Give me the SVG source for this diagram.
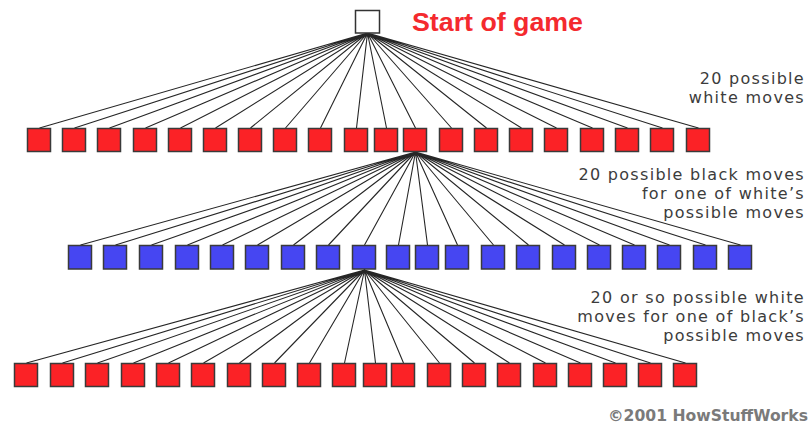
<svg xmlns="http://www.w3.org/2000/svg" width="810" height="425" viewBox="0 0 810 425">
<style>
  .red { fill: #fb2226; stroke: #3a3a3a; stroke-width: 1.5; }
  .blue { fill: #4646f2; stroke: #3a3a3a; stroke-width: 1.5; }
  .root { fill: #ffffff; stroke: #333333; stroke-width: 1.5; }
  .edge { stroke: #262626; stroke-width: 1.1; fill: none; }
  .note { font-family: "DejaVu Sans", Verdana, sans-serif; font-size: 16px; letter-spacing: 1.3px; fill: #3c3c3c; text-anchor: end; }
  .title { font-family: "Liberation Sans", Arial, sans-serif; font-weight: bold; font-size: 26px; fill: #f42a2e; }
  .credit { font-family: "DejaVu Sans", Verdana, sans-serif; font-weight: bold; font-size: 15px; fill: #7a7a7a; }
</style>
<rect width="810" height="425" fill="#ffffff"/>

<!-- connectors: root to white moves, one white move to black moves, one black move to white replies -->
<g id="connectors" class="edge">
  <path d="M367.5 33 L39.5 128 M367.5 33 L74.5 128 M367.5 33 L109.5 128 M367.5 33 L145.5 128 M367.5 33 L180.5 128 M367.5 33 L215.5 128 M367.5 33 L250.5 128 M367.5 33 L285.5 128 M367.5 33 L320.5 128 M367.5 33 L356.5 128 M367.5 33 L386.5 128 M367.5 33 L415.5 128 M367.5 33 L451.5 128 M367.5 33 L486.5 128 M367.5 33 L521.5 128 M367.5 33 L556.5 128 M367.5 33 L592.5 128 M367.5 33 L627.5 128 M367.5 33 L662.5 128 M367.5 33 L698.5 128"/>
  <path d="M415.5 152 L80.5 245 M415.5 152 L115.5 245 M415.5 152 L151.5 245 M415.5 152 L187.5 245 M415.5 152 L222.5 245 M415.5 152 L257.5 245 M415.5 152 L293.5 245 M415.5 152 L328.5 245 M415.5 152 L364.5 245 M415.5 152 L398.5 245 M415.5 152 L427.5 245 M415.5 152 L457.5 245 M415.5 152 L493.5 245 M415.5 152 L528.5 245 M415.5 152 L564.5 245 M415.5 152 L599.5 245 M415.5 152 L634.5 245 M415.5 152 L669.5 245 M415.5 152 L705.5 245 M415.5 152 L740.5 245"/>
  <path d="M364.5 270 L26.5 363 M364.5 270 L62.5 363 M364.5 270 L97.5 363 M364.5 270 L133.5 363 M364.5 270 L168.5 363 M364.5 270 L203.5 363 M364.5 270 L239.5 363 M364.5 270 L274.5 363 M364.5 270 L309.5 363 M364.5 270 L344.5 363 M364.5 270 L375.5 363 M364.5 270 L403.5 363 M364.5 270 L439.5 363 M364.5 270 L474.5 363 M364.5 270 L509.5 363 M364.5 270 L545.5 363 M364.5 270 L580.5 363 M364.5 270 L615.5 363 M364.5 270 L650.5 363 M364.5 270 L685.5 363"/>
</g>

<!-- start position -->
<g id="start"><rect class="root" x="355.5" y="10.5" width="24" height="22.5"/></g>

<!-- white's first moves -->
<g id="w1"><rect class="red" x="27.5" y="128.5" width="23" height="23"/></g>
<g id="w2"><rect class="red" x="62.5" y="128.5" width="23" height="23"/></g>
<g id="w3"><rect class="red" x="97.5" y="128.5" width="23" height="23"/></g>
<g id="w4"><rect class="red" x="133.5" y="128.5" width="23" height="23"/></g>
<g id="w5"><rect class="red" x="168.5" y="128.5" width="23" height="23"/></g>
<g id="w6"><rect class="red" x="203.5" y="128.5" width="23" height="23"/></g>
<g id="w7"><rect class="red" x="238.5" y="128.5" width="23" height="23"/></g>
<g id="w8"><rect class="red" x="273.5" y="128.5" width="23" height="23"/></g>
<g id="w9"><rect class="red" x="308.5" y="128.5" width="23" height="23"/></g>
<g id="w10"><rect class="red" x="344.5" y="128.5" width="23" height="23"/></g>
<g id="w11"><rect class="red" x="374.5" y="128.5" width="23" height="23"/></g>
<g id="w12"><rect class="red" x="403.5" y="128.5" width="23" height="23"/></g>
<g id="w13"><rect class="red" x="439.5" y="128.5" width="23" height="23"/></g>
<g id="w14"><rect class="red" x="474.5" y="128.5" width="23" height="23"/></g>
<g id="w15"><rect class="red" x="509.5" y="128.5" width="23" height="23"/></g>
<g id="w16"><rect class="red" x="544.5" y="128.5" width="23" height="23"/></g>
<g id="w17"><rect class="red" x="580.5" y="128.5" width="23" height="23"/></g>
<g id="w18"><rect class="red" x="615.5" y="128.5" width="23" height="23"/></g>
<g id="w19"><rect class="red" x="650.5" y="128.5" width="23" height="23"/></g>
<g id="w20"><rect class="red" x="686.5" y="128.5" width="23" height="23"/></g>

<!-- black replies -->
<g id="b1"><rect class="blue" x="68.5" y="245.5" width="23" height="23.5"/></g>
<g id="b2"><rect class="blue" x="103.5" y="245.5" width="23" height="23.5"/></g>
<g id="b3"><rect class="blue" x="139.5" y="245.5" width="23" height="23.5"/></g>
<g id="b4"><rect class="blue" x="175.5" y="245.5" width="23" height="23.5"/></g>
<g id="b5"><rect class="blue" x="210.5" y="245.5" width="23" height="23.5"/></g>
<g id="b6"><rect class="blue" x="245.5" y="245.5" width="23" height="23.5"/></g>
<g id="b7"><rect class="blue" x="281.5" y="245.5" width="23" height="23.5"/></g>
<g id="b8"><rect class="blue" x="316.5" y="245.5" width="23" height="23.5"/></g>
<g id="b9"><rect class="blue" x="352.5" y="245.5" width="23" height="23.5"/></g>
<g id="b10"><rect class="blue" x="386.5" y="245.5" width="23" height="23.5"/></g>
<g id="b11"><rect class="blue" x="415.5" y="245.5" width="23" height="23.5"/></g>
<g id="b12"><rect class="blue" x="445.5" y="245.5" width="23" height="23.5"/></g>
<g id="b13"><rect class="blue" x="481.5" y="245.5" width="23" height="23.5"/></g>
<g id="b14"><rect class="blue" x="516.5" y="245.5" width="23" height="23.5"/></g>
<g id="b15"><rect class="blue" x="552.5" y="245.5" width="23" height="23.5"/></g>
<g id="b16"><rect class="blue" x="587.5" y="245.5" width="23" height="23.5"/></g>
<g id="b17"><rect class="blue" x="622.5" y="245.5" width="23" height="23.5"/></g>
<g id="b18"><rect class="blue" x="657.5" y="245.5" width="23" height="23.5"/></g>
<g id="b19"><rect class="blue" x="693.5" y="245.5" width="23" height="23.5"/></g>
<g id="b20"><rect class="blue" x="728.5" y="245.5" width="23" height="23.5"/></g>

<!-- white replies -->
<g id="r1"><rect class="red" x="14.5" y="363.5" width="23" height="23"/></g>
<g id="r2"><rect class="red" x="50.5" y="363.5" width="23" height="23"/></g>
<g id="r3"><rect class="red" x="85.5" y="363.5" width="23" height="23"/></g>
<g id="r4"><rect class="red" x="121.5" y="363.5" width="23" height="23"/></g>
<g id="r5"><rect class="red" x="156.5" y="363.5" width="23" height="23"/></g>
<g id="r6"><rect class="red" x="191.5" y="363.5" width="23" height="23"/></g>
<g id="r7"><rect class="red" x="227.5" y="363.5" width="23" height="23"/></g>
<g id="r8"><rect class="red" x="262.5" y="363.5" width="23" height="23"/></g>
<g id="r9"><rect class="red" x="297.5" y="363.5" width="23" height="23"/></g>
<g id="r10"><rect class="red" x="332.5" y="363.5" width="23" height="23"/></g>
<g id="r11"><rect class="red" x="363.5" y="363.5" width="23" height="23"/></g>
<g id="r12"><rect class="red" x="391.5" y="363.5" width="23" height="23"/></g>
<g id="r13"><rect class="red" x="427.5" y="363.5" width="23" height="23"/></g>
<g id="r14"><rect class="red" x="462.5" y="363.5" width="23" height="23"/></g>
<g id="r15"><rect class="red" x="497.5" y="363.5" width="23" height="23"/></g>
<g id="r16"><rect class="red" x="533.5" y="363.5" width="23" height="23"/></g>
<g id="r17"><rect class="red" x="568.5" y="363.5" width="23" height="23"/></g>
<g id="r18"><rect class="red" x="603.5" y="363.5" width="23" height="23"/></g>
<g id="r19"><rect class="red" x="638.5" y="363.5" width="23" height="23"/></g>
<g id="r20"><rect class="red" x="673.5" y="363.5" width="23" height="23"/></g>

<!-- labels -->
<g id="labels">
  <text class="title" x="412" y="31" textLength="171" lengthAdjust="spacingAndGlyphs">Start of game</text>
  <text class="note" x="805" y="84">20 possible</text>
  <text class="note" x="805" y="103">white moves</text>
  <text class="note" x="805" y="180">20 possible black moves</text>
  <text class="note" x="805" y="199">for one of white’s</text>
  <text class="note" x="805" y="218">possible moves</text>
  <text class="note" x="805" y="303">20 or so possible white</text>
  <text class="note" x="805" y="322">moves for one of black’s</text>
  <text class="note" x="805" y="341">possible moves</text>
  <text class="credit" x="608" y="421" textLength="200" lengthAdjust="spacingAndGlyphs">©2001 HowStuffWorks</text>
</g>
</svg>
